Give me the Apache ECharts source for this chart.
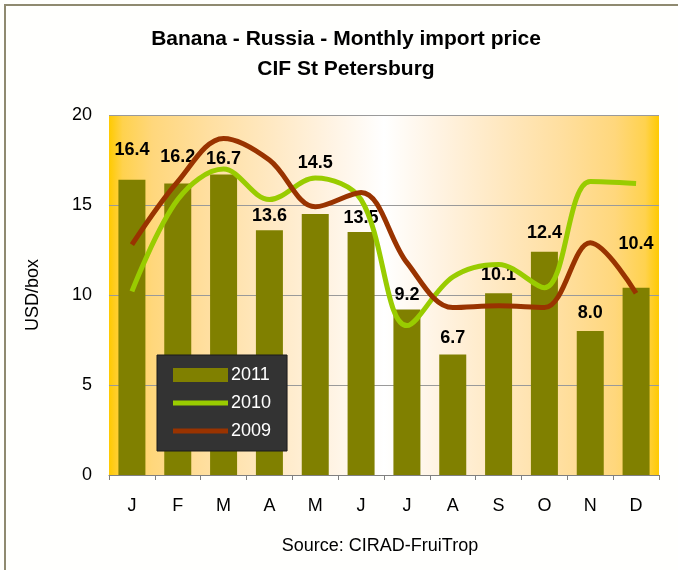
<!DOCTYPE html>
<html>
<head>
<meta charset="utf-8">
<script src="https://cdn.jsdelivr.net/npm/echarts@6/dist/echarts.min.js"></script>
<style>
html,body{margin:0;padding:0;background:#fffffd;}
#c{width:678px;height:570px;}
</style>
</head>
<body>
<div id="c"></div>
<script>
const months = ['J','F','M','A','M','J','J','A','S','O','N','D'];
const prices2011 = [16.4,16.2,16.7,13.6,14.5,13.5,9.2,6.7,10.1,12.4,8.0,10.4];
const prices2010 = [10.2,15.3,17.0,15.3,16.5,15.3,8.3,11.0,11.7,10.4,16.3,16.2];
const prices2009 = [12.8,16.3,18.7,17.5,14.9,15.7,11.8,9.3,9.4,9.3,12.9,10.1];
const yTicks = [0,5,10,15,20];

// label styling (extra lift in px above default position)
const labelLift = [16,12,1,0,37,0,0,2,4,5,4,30];

const FONT = '"Liberation Sans", Arial, sans-serif';
const chart = echarts.init(document.getElementById('c'), null, {renderer:'canvas'});

const side = '#FFCA00';
const bg = new echarts.graphic.LinearGradient(0,0,1,0,[
  {offset:0, color:side},
  {offset:0.025, color:'#FFD24E'},
  {offset:0.08, color:'#FFD77C'},
  {offset:0.18, color:'#FFDFA0'},
  {offset:0.3, color:'#FFE9C4'},
  {offset:0.4, color:'#FFF3E2'},
  {offset:0.5, color:'#FFFFFF'},
  {offset:0.6, color:'#FFF3E2'},
  {offset:0.7, color:'#FFE9C4'},
  {offset:0.82, color:'#FFDFA0'},
  {offset:0.92, color:'#FFD77C'},
  {offset:0.975, color:'#FFD24E'},
  {offset:1, color:side}
]);

// legend icon for lines: thin bar centred in a 55x14 box
const lineIcon = 'path://M0,0 M0,4.5 L55,4.5 L55,9.5 L0,9.5 Z M55,14';

const option = {
  backgroundColor:'#fffffd',
  animation:false,
  textStyle:{fontFamily:FONT},
  title:{
    text:'Banana - Russia - Monthly import price\nCIF St Petersburg',
    left:341, top:19, textAlign:'center',
    textStyle:{fontFamily:FONT, fontSize:21, fontWeight:'bold', color:'#000', lineHeight:30}
  },
  graphic:[
    {type:'rect', shape:{x:5,y:5,width:720,height:620}, style:{fill:'none', stroke:'#8f8a70', lineWidth:2}, silent:true},
    {type:'text', x:380, y:546, style:{text:'Source: CIRAD-FruiTrop', font:'18px '+FONT, fill:'#000', textAlign:'center', textVerticalAlign:'middle'}}
  ],
  legend:{
    orient:'vertical',
    left:157, top:355,
    padding:[11,16,11,16],
    itemWidth:55, itemHeight:14, itemGap:10,
    backgroundColor:'#333333', borderColor:'#1a1a1a', borderWidth:1,
    textStyle:{color:'#fff', fontSize:18, fontFamily:FONT, padding:[0,0,0,-2]},
    data:[{name:'2011', icon:'rect'},{name:'2010', icon:lineIcon},{name:'2009', icon:lineIcon}]
  },
  grid:{left:109, right:19, top:115, bottom:95, show:true, backgroundColor:bg, borderWidth:0},
  xAxis:{
    type:'category', data:months, boundaryGap:true,
    axisLine:{lineStyle:{color:'#808080', width:1}},
    axisTick:{show:true, length:5, alignWithLabel:false, lineStyle:{color:'#808080'}},
    axisLabel:{fontSize:18, color:'#000', margin:22, fontFamily:FONT}
  },
  yAxis:{
    type:'value', min:0, max:20, interval:5,
    name:'USD/box', nameLocation:'middle', nameGap:67, nameRotate:90,
    nameTextStyle:{fontSize:18, color:'#000', fontFamily:FONT},
    axisLine:{show:false}, axisTick:{show:false},
    axisLabel:{fontSize:18, color:'#000', margin:17, fontFamily:FONT,
      formatter:v=> yTicks.includes(v) ? String(v) : ''},
    splitLine:{lineStyle:{color:'#9a9a9a', width:1}}
  },
  series:[
    {
      name:'2011', type:'bar', barWidth:27, z:2,
      itemStyle:{color:'#808000'},
      data:prices2011.map((v,i)=>({value:v, label:{offset:[0,-labelLift[i]]}})),
      label:{show:true, position:'top', distance:5, fontSize:18, fontWeight:'bold', color:'#000', fontFamily:FONT,
        formatter:p=>Number(p.value).toFixed(1)}
    },
    {
      name:'2010', type:'line', smooth:0.35, showSymbol:false, symbol:'none', z:3,
      lineStyle:{color:'#99CC00', width:5}, itemStyle:{color:'#99CC00'},
      data:prices2010
    },
    {
      name:'2009', type:'line', smooth:0.35, showSymbol:false, symbol:'none', z:4,
      lineStyle:{color:'#993300', width:5}, itemStyle:{color:'#993300'},
      data:prices2009
    }
  ]
};
chart.setOption(option);
</script>
</body>
</html>
